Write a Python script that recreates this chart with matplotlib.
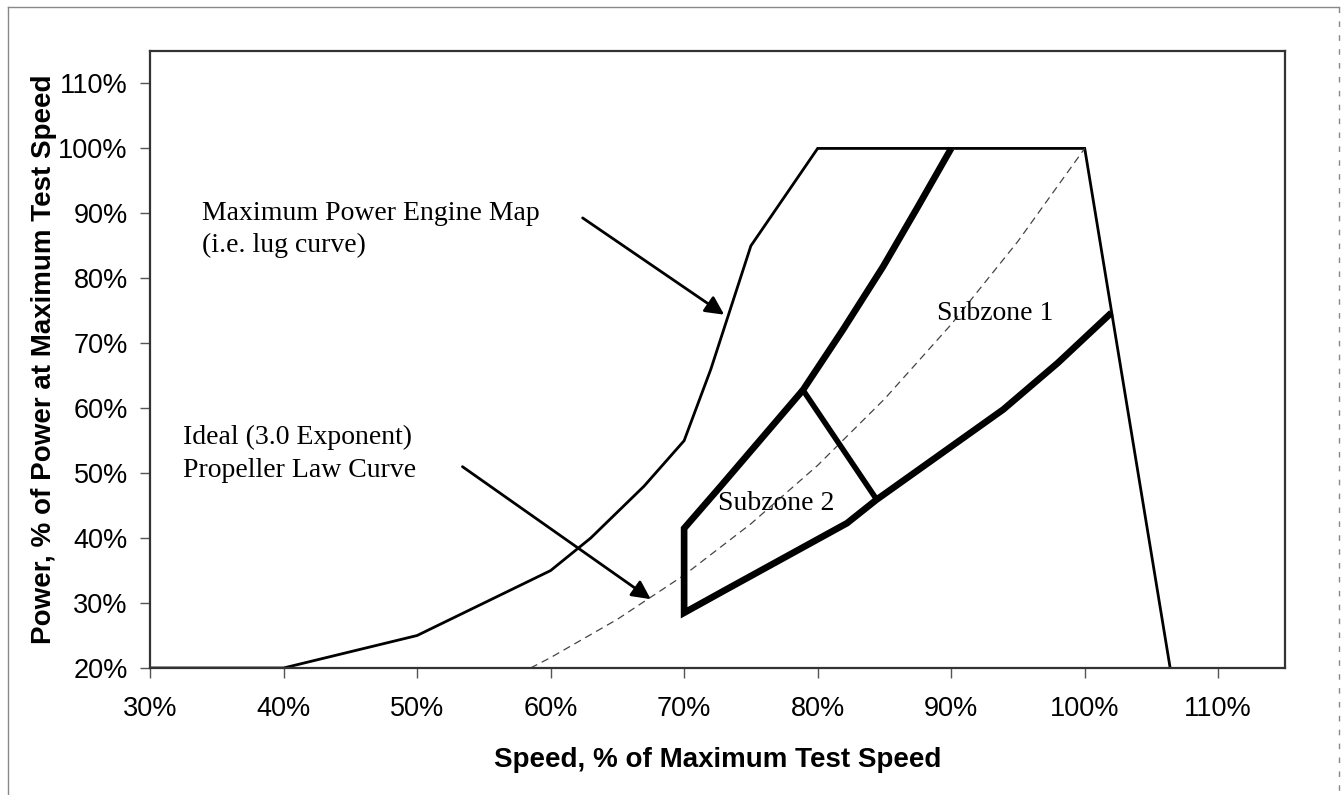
import matplotlib
matplotlib.use("Agg")
import matplotlib.pyplot as plt
from matplotlib.lines import Line2D
from matplotlib.ticker import FuncFormatter

# values (percent of max speed / power)
lug_speed = [30, 40, 50, 60, 63, 67, 70, 72, 75, 80, 100, 106.4]
lug_power = [20, 20, 25, 35, 40, 48, 55, 66, 85, 100, 100, 20]

prop_speed = [58.5, 60, 65, 70, 75, 80, 85, 90, 95, 100]
prop_power = [20, 21.6, 27.5, 34.3, 42.2, 51.2, 61.4, 72.9, 85.7, 100]

upper_speed = [70, 70, 72.7, 78.9, 81.9, 84.9, 87.5, 90]
upper_power = [28.5, 41.5, 47.9, 62.8, 72.1, 81.8, 91.0, 100]

lower_speed = [70, 72.9, 82.2, 84.4, 93.9, 98.0, 102.0]
lower_power = [28.5, 31.8, 42.3, 45.9, 59.8, 67.0, 74.7]

divider_speed = [78.9, 84.4]
divider_power = [62.8, 46.0]

x_ticks = [30, 40, 50, 60, 70, 80, 90, 100, 110]
y_ticks = [20, 30, 40, 50, 60, 70, 80, 90, 100, 110]

fig = plt.figure(figsize=(13.41, 7.95), dpi=100)
ax = fig.add_axes([150 / 1341, 127 / 795, 1135 / 1341, 617 / 795])

ax.plot(lug_speed, lug_power, color="black", lw=2.0, solid_joinstyle="miter")
ax.plot(prop_speed, prop_power, color="#444444", lw=0.9, linestyle=(0, (6, 4)))
# thick zone outline: lower edge back to the corner, then up the upper edge
zone_x = lower_speed[::-1] + upper_speed[1:]
zone_y = lower_power[::-1] + upper_power[1:]
ax.plot(zone_x, zone_y, color="black", lw=4.8,
        solid_joinstyle="miter", solid_capstyle="butt")
ax.plot(divider_speed, divider_power, color="black", lw=4.0)

ax.set_xlim(30, 115)
ax.set_ylim(20, 115)
ax.set_xticks(x_ticks)
ax.set_yticks(y_ticks)
pct = FuncFormatter(lambda v, p: f"{v:.0f}%")
ax.xaxis.set_major_formatter(pct)
ax.yaxis.set_major_formatter(pct)

for lab in ax.get_xticklabels() + ax.get_yticklabels():
    lab.set_fontfamily("Liberation Sans")
    lab.set_fontsize(19.5)
ax.tick_params(axis="both", direction="out", length=7, width=1, color="#555555")
ax.tick_params(axis="x", pad=13)
ax.tick_params(axis="y", pad=9)

for s in ax.spines.values():
    s.set_color("#333333")
    s.set_linewidth(1.6)

ax.set_xlabel("Speed, % of Maximum Test Speed", fontfamily="Liberation Sans",
              fontweight="bold", fontsize=20, labelpad=18)
ax.set_ylabel("Power, % of Power at Maximum Test Speed", fontfamily="Liberation Sans",
              fontweight="bold", fontsize=20, labelpad=1)

serif = {"family": "Liberation Serif", "size": 20}
ax.text(33.9, 89.0, "Maximum Power Engine Map", fontdict=serif, va="baseline")
ax.text(33.9, 84.1, "(i.e. lug curve)", fontdict=serif, va="baseline")
ax.text(32.5, 54.5, "Ideal (3.0 Exponent)", fontdict=serif, va="baseline")
ax.text(32.5, 49.4, "Propeller Law Curve", fontdict=serif, va="baseline")
ax.text(88.95, 73.6, "Subzone 1", fontdict=serif, va="baseline")
ax.text(72.55, 44.3, "Subzone 2", fontdict=serif, va="baseline")

arrow = dict(arrowstyle="-|>", color="black", lw=2.0, mutation_scale=28,
             shrinkA=0, shrinkB=0)
ax.annotate("", xy=(73.0, 74.4), xytext=(62.4, 89.3), arrowprops=arrow)
ax.annotate("", xy=(67.5, 30.6), xytext=(53.4, 51.0), arrowprops=arrow)

# thin outer frame of the scanned chart
W, H = 1341, 795
frame = dict(color="#888888", lw=1.0, transform=fig.transFigure)
fig.lines.append(Line2D([8 / W, 1339 / W], [1 - 7 / H, 1 - 7 / H], **frame))
fig.lines.append(Line2D([8 / W, 8 / W], [1 - 7 / H, 0], **frame))
fig.lines.append(Line2D([1339 / W, 1339 / W], [1 - 7 / H, 0], linestyle=(0, (4, 6)), **frame))

fig.savefig("out.png", dpi=100)
